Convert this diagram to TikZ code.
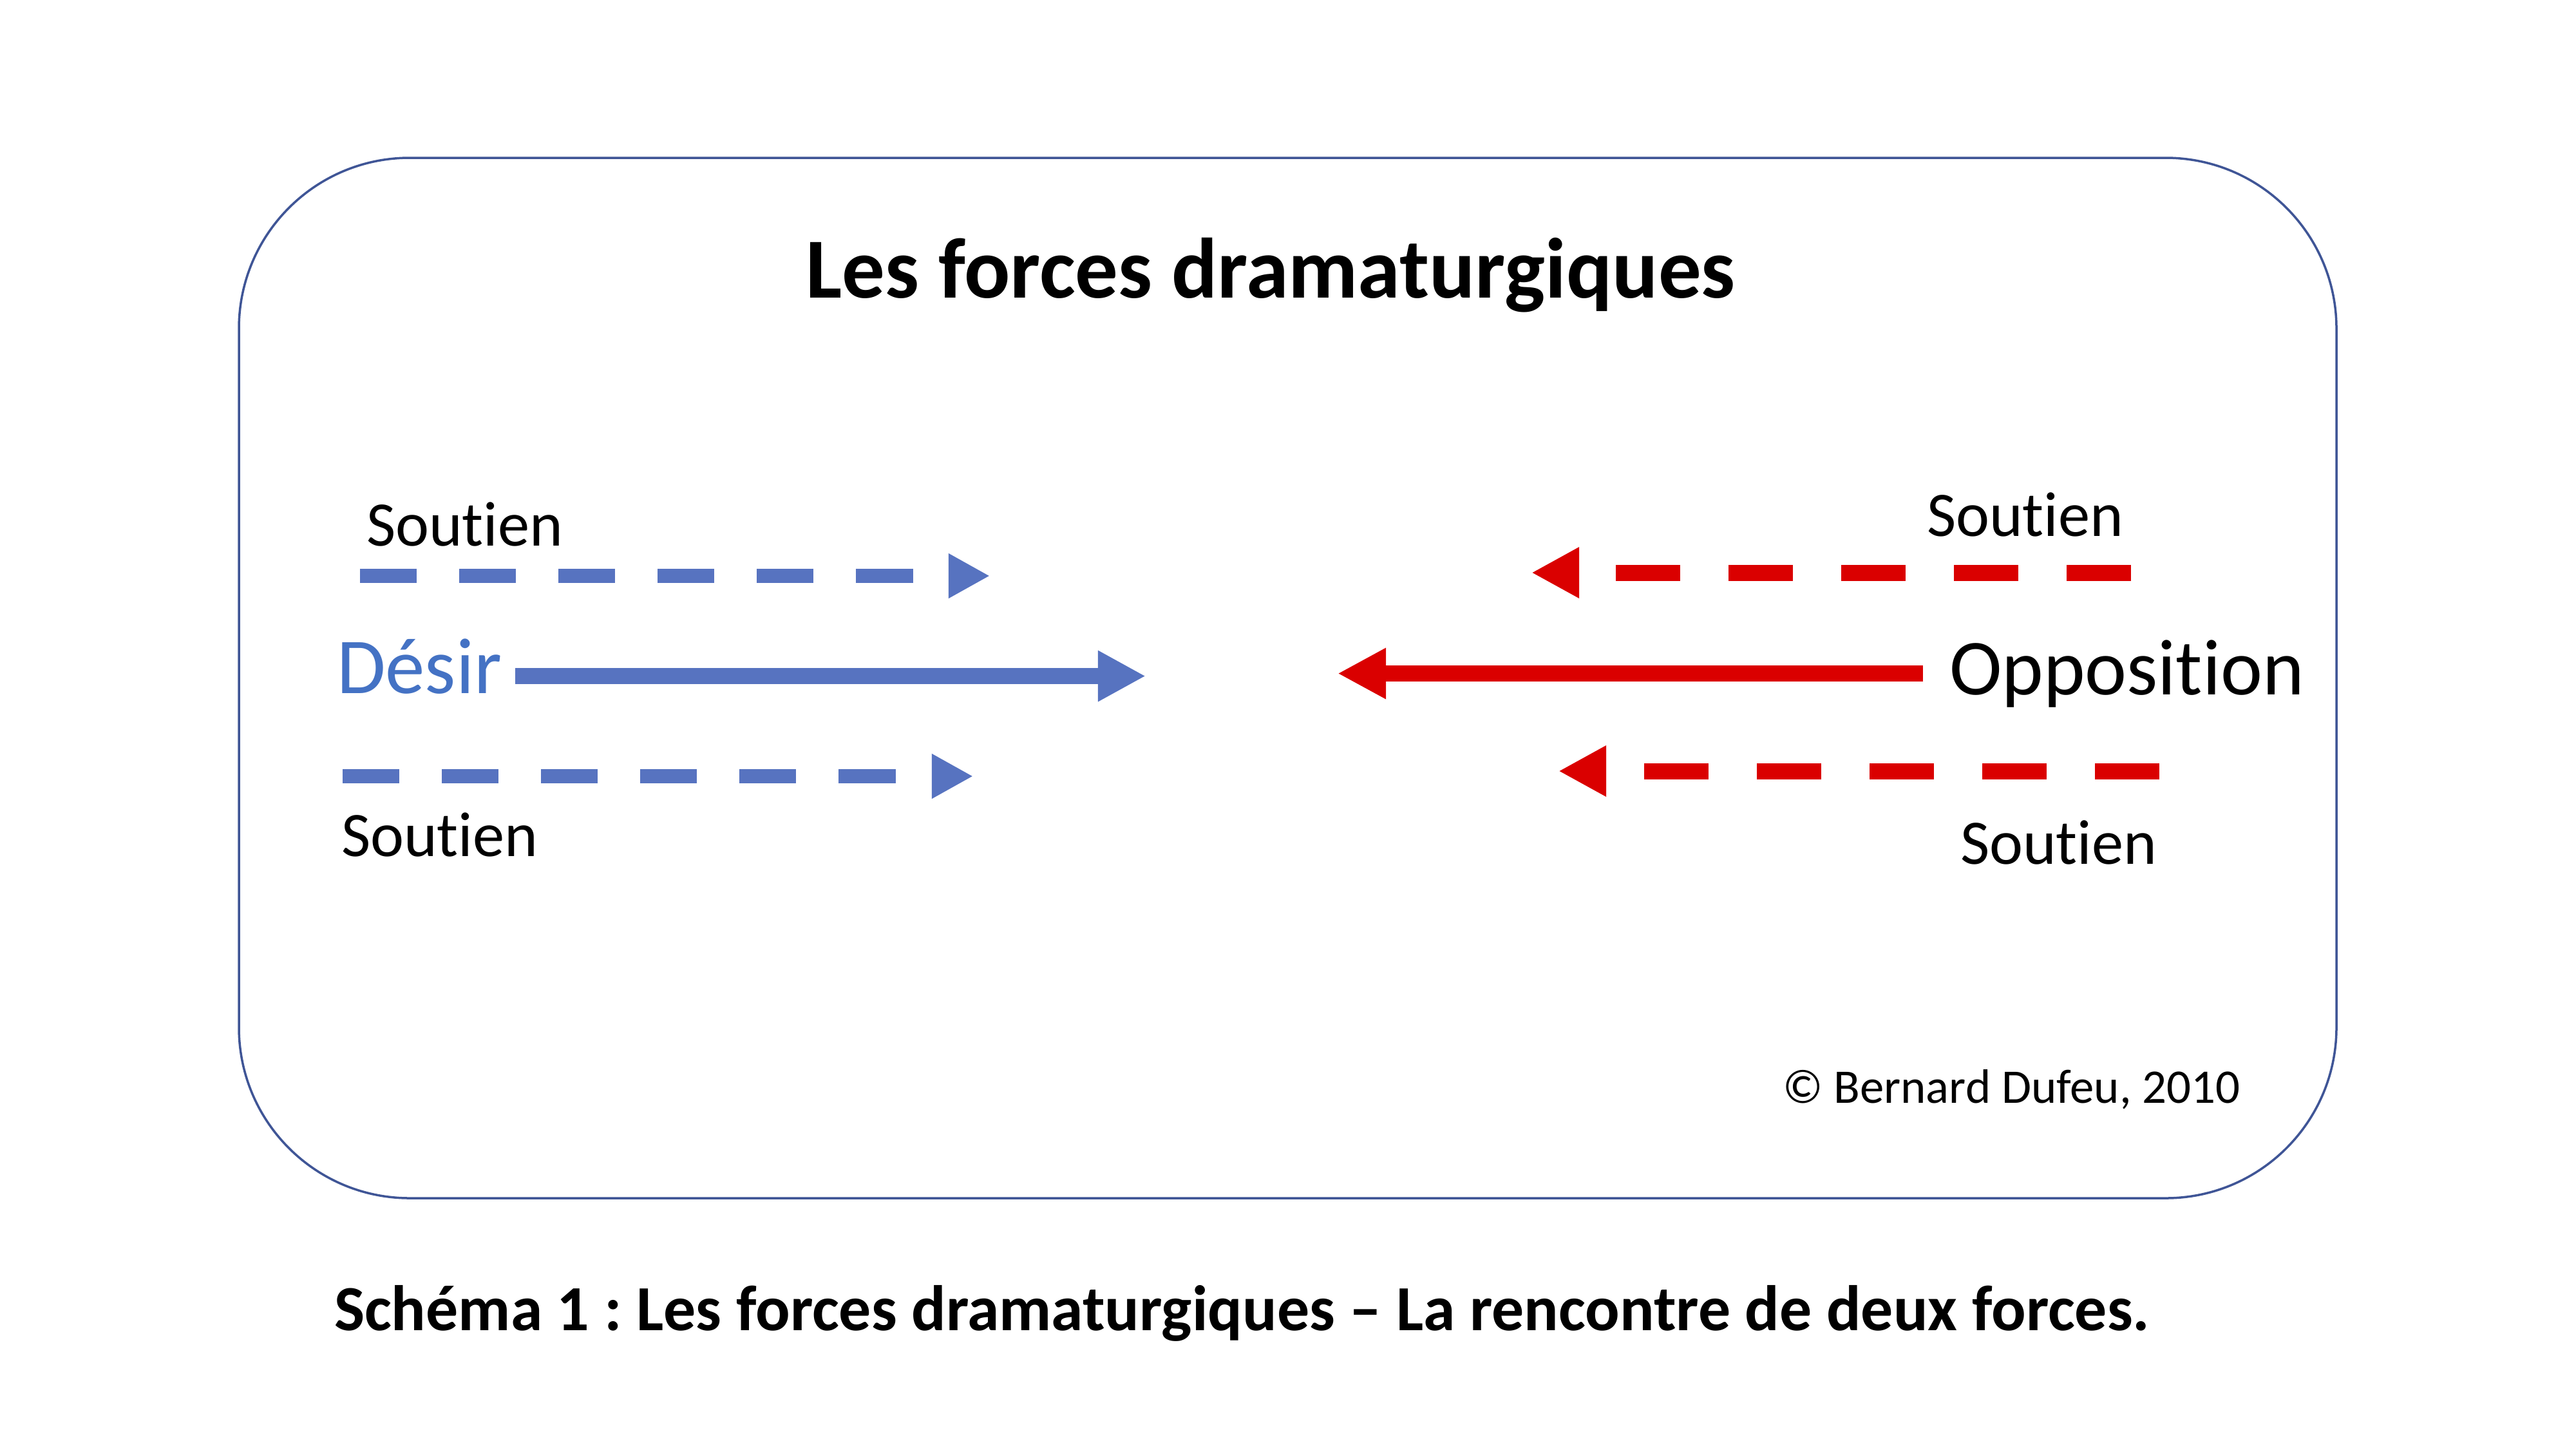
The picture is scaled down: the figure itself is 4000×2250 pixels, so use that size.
\documentclass[tikz,border=0pt]{standalone}
\usepackage{fontspec}
\setmainfont{Carlito}[Ligatures={NoCommon}]
\usetikzlibrary{arrows.meta}
\frenchspacing
\definecolor{boxblue}{RGB}{63,85,150}
\definecolor{arrowblue}{RGB}{87,115,192}
\definecolor{textblue}{RGB}{68,114,196}
\definecolor{arrowred}{RGB}{218,0,0}
\tikzset{
  lbl/.style={inner sep=0pt, outer sep=0pt, anchor=base west},
  soutien/.style={lbl, font=\fontsize{28}{34}\selectfont},
  force/.style={lbl, font=\fontsize{35}{42}\selectfont},
  bluedash/.style={draw=arrowblue, line width=0.22cm, dash pattern=on 0.88cm off 0.66cm,
     -{Triangle[length=0.64cm,width=0.65cm]}, arrowblue},
  reddash/.style={draw=arrowred, line width=0.25cm, dash pattern=on 1.0cm off 0.75cm,
     -{Triangle[length=0.74cm,width=0.74cm]}, arrowred},
  bluesolid/.style={draw=arrowblue, line width=0.25cm, -{Triangle[length=0.74cm,width=0.74cm]}, arrowblue},
  redsolid/.style={draw=arrowred, line width=0.25cm, -{Triangle[length=0.75cm,width=0.74cm]}, arrowred},
}
\begin{document}
\begin{tikzpicture}[x=0.01cm, y=-0.01cm]
\fill[white] (0,0) rectangle (4000,2250);
\useasboundingbox (0,0) rectangle (4000,2250);

% frame
\draw[boxblue, line width=0.035cm, rounded corners=2.65cm] (371,245) rectangle (3628,1860);

% title
\node[inner sep=0pt, anchor=base, font=\bfseries\fontsize{37.8}{45}\selectfont] (title) at (1973,462) {Les forces dramaturgiques};

% left side
\node[soutien] (s1) at (569,847) {Soutien};
\node[force, text=textblue] (desir) at (523,1076) {Désir};
\node[soutien] (s2) at (530,1329) {Soutien};

\coordinate (a1s) at (559,894);
\coordinate (a1e) at (1537,894);
\coordinate (a2s) at (800,1049.5);
\coordinate (a2e) at (1779,1049.5);
\coordinate (a3s) at (532,1205);
\coordinate (a3e) at (1511,1205);
\draw[bluedash] (a1s) -- (a1e);
\draw[bluesolid] (a2s) -- (a2e);
\draw[bluedash] (a3s) -- (a3e);

% right side
\node[soutien] (s3) at (2992,832.5) {Soutien};
\node[force] (oppo) at (3027,1078.5) {Opposition};
\node[soutien] (s4) at (3044,1341) {Soutien};

\coordinate (b1s) at (3309,889);
\coordinate (b1e) at (2378,889);
\coordinate (b2s) at (2986,1045.5);
\coordinate (b2e) at (2077,1045.5);
\coordinate (b3s) at (3353,1197);
\coordinate (b3e) at (2420,1197);
\draw[reddash] (b1s) -- (b1e);
\draw[redsolid] (b2s) -- (b2e);
\draw[reddash] (b3s) -- (b3e);

% copyright
\node[lbl, font=\fontsize{21.3}{26}\selectfont] (copy) at (2768,1712) {© Bernard Dufeu, 2010};

% caption
\node[lbl, font=\bfseries\fontsize{28.4}{34}\selectfont] (caption) at (519,2065) {Schéma 1 : Les forces dramaturgiques – La rencontre de deux forces.};
\end{tikzpicture}
\end{document}
